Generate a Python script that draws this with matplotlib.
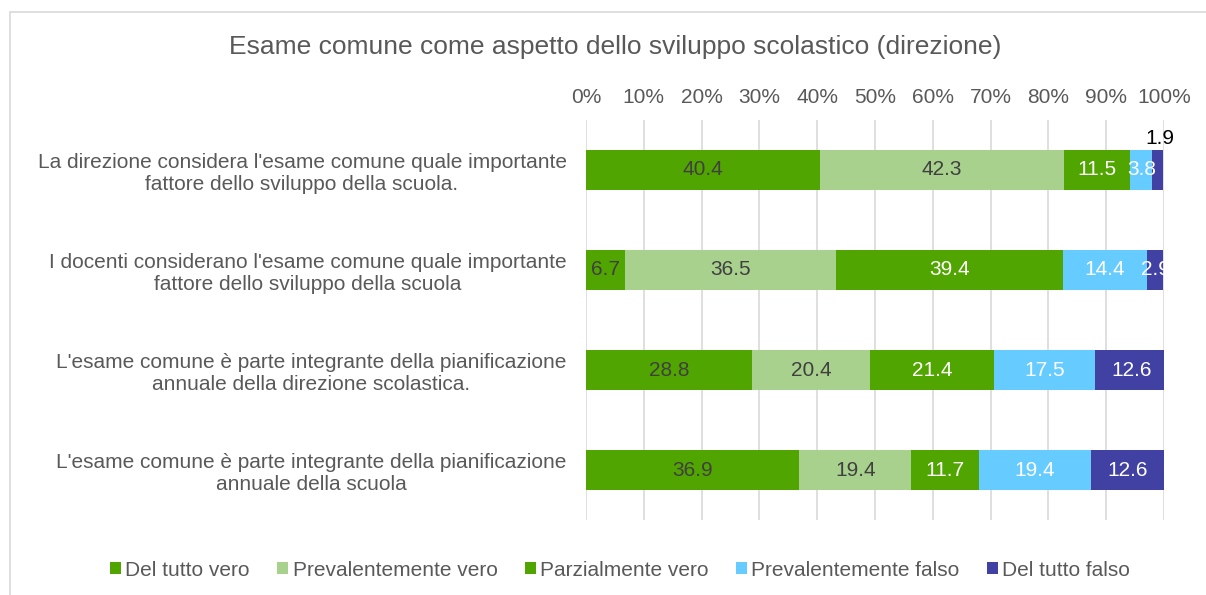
import matplotlib.pyplot as plt
import numpy as np
from matplotlib.patches import Rectangle

plt.rcParams['font.family'] = ['Liberation Sans', 'DejaVu Sans']

# --- data ---
categories = [
    "La direzione considera l'esame comune quale importante\nfattore dello sviluppo della scuola.",
    "I docenti considerano l'esame comune quale importante\nfattore dello sviluppo della scuola",
    "L'esame comune è parte integrante della pianificazione\nannuale della direzione scolastica.",
    "L'esame comune è parte integrante della pianificazione\nannuale della scuola",
]
series_names = ["Del tutto vero", "Prevalentemente vero", "Parzialmente vero",
                "Prevalentemente falso", "Del tutto falso"]
del_tutto_vero = [40.4, 6.7, 28.8, 36.9]
prev_vero = [42.3, 36.5, 20.4, 19.4]
parz_vero = [11.5, 39.4, 21.4, 11.7]
prev_falso = [3.8, 14.4, 17.5, 19.4]
del_tutto_falso = [1.9, 2.9, 12.6, 12.6]
xticks = [0, 10, 20, 30, 40, 50, 60, 70, 80, 90, 100]

values = [del_tutto_vero, prev_vero, parz_vero, prev_falso, del_tutto_falso]
colors = ["#51A500", "#A9D18E", "#51A500", "#66CCFF", "#4141A3"]
label_colors = ["#404040", "#404040", "white", "white", "white"]
grey = "#595959"
fs = 15

fig = plt.figure(figsize=(12.06, 5.95), dpi=100)
ax = fig.add_axes([586 / 1206, 1 - 520 / 595, 578 / 1206, 400 / 595])

# outer chart frame (extends off the right/bottom like the reference)
fig.patches.append(Rectangle((9.5 / 1206, -0.1), 1.2, 1 - 11.5 / 595 + 0.1,
                             transform=fig.transFigure, fill=False,
                             edgecolor="#D9D9D9", linewidth=1.2))

y = np.arange(len(categories))
left = np.zeros(len(categories))
for i, (vals, name) in enumerate(zip(values, series_names)):
    vals = np.array(vals)
    ax.barh(y, vals, left=left, height=0.4, color=colors[i], label=name, zorder=3)
    for j, v in enumerate(vals):
        cx = left[j] + v / 2
        if i == 4 and j == 0:
            # small slice: label placed above the bar
            ax.text(cx + 0.3, y[j] - 0.31, f"{v:.1f}", ha="center", va="center",
                    fontsize=fs, color="black", clip_on=False)
        else:
            ax.text(cx, y[j], f"{v:.1f}", ha="center", va="center",
                    fontsize=fs, color=label_colors[i], clip_on=True, zorder=4)
    left += vals

ax.set_xlim(0, 100)
ax.set_ylim(len(categories) - 0.5, -0.5)
ax.set_xticks(xticks)
ax.set_xticklabels([f"{t}%" for t in xticks])
ax.xaxis.tick_top()
ax.set_yticks(y)
ax.set_yticklabels(categories)
for lab in ax.get_yticklabels():
    lab.set_multialignment("center")
ax.tick_params(axis="x", length=0, pad=9, labelsize=fs, labelcolor=grey)
ax.tick_params(axis="y", length=0, pad=14, labelsize=fs, labelcolor=grey)
ax.grid(axis="x", color="#D9D9D9", linewidth=1.2, zorder=0)
for s in ax.spines.values():
    s.set_visible(False)

fig.text(615 / 1206, 1 - 47 / 595, "Esame comune come aspetto dello sviluppo scolastico (direzione)",
         ha="center", va="center", fontsize=19, color=grey)

leg = fig.legend(loc="center", bbox_to_anchor=(620 / 1206, 1 - 570 / 595), ncol=5,
                 frameon=False, fontsize=fs, handlelength=0.55, handleheight=0.55,
                 handletextpad=0.2, columnspacing=1.3)
for t in leg.get_texts():
    t.set_color(grey)

fig.savefig("out.png", dpi=100)
